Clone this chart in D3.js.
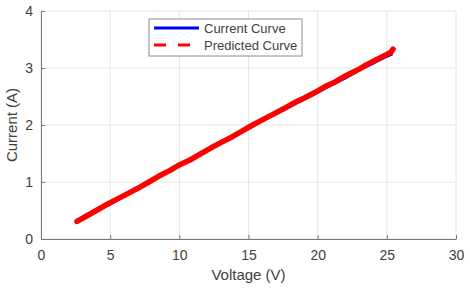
<!DOCTYPE html>
<html>
<head>
<meta charset="utf-8">
<script src="https://cdn.jsdelivr.net/npm/d3@7"></script>
<style>
  body { margin: 0; background: #fff; }
  text { font-family: "Liberation Sans", Arial, sans-serif; fill: #404040; }
</style>
</head>
<body>
<div id="chart"></div>
<script>
// values
var currentV = [2.6, 3, 4, 5, 6, 7, 8, 9, 10, 11, 12, 13, 14, 15, 16, 17, 18, 19, 20, 21, 22, 23, 24, 25, 25.4];
var currentI = [0.32, 0.37, 0.50, 0.62, 0.76, 0.89, 1.03, 1.17, 1.30, 1.43, 1.56, 1.69, 1.82, 1.95, 2.08, 2.21, 2.33, 2.46, 2.58, 2.71, 2.83, 2.97, 3.09, 3.21, 3.25];

var predictedV = [2.6, 3.2, 4, 4.8, 5.5, 6.3, 7, 7.8, 8.5, 9.3, 10, 10.8, 11.5, 12.3, 13, 13.8, 14.5, 15.3, 16, 16.8, 17.5, 18.3, 19, 19.8, 20.5, 21.3, 22, 22.5, 23, 23.4, 23.8, 24.2, 24.6, 25, 25.3, 25.45];
var predictedI = [0.31, 0.39, 0.50, 0.61, 0.70, 0.80, 0.89, 1.00, 1.10, 1.20, 1.30, 1.39, 1.49, 1.60, 1.69, 1.79, 1.89, 2.00, 2.09, 2.19, 2.28, 2.39, 2.47, 2.57, 2.67, 2.76, 2.86, 2.92, 2.98, 3.04, 3.09, 3.14, 3.19, 3.24, 3.28, 3.33];

var xTicks = [0, 5, 10, 15, 20, 25, 30];
var yTicks = [0, 1, 2, 3, 4];

var width = 470, height = 292;
var margin = {top: 11, right: 14, bottom: 53, left: 41};
var w = width - margin.left - margin.right,
    h = height - margin.top - margin.bottom;

var svg = d3.select("#chart").append("svg")
    .attr("width", width)
    .attr("height", height);

var g = svg.append("g")
    .attr("transform", "translate(" + margin.left + "," + margin.top + ")");

var x = d3.scaleLinear().domain([0, 30]).range([0, w]);
var y = d3.scaleLinear().domain([0, 4]).range([h, 0]);

// grid
g.append("g").selectAll("line").data(xTicks).enter().append("line")
    .attr("x1", d => x(d)).attr("x2", d => x(d))
    .attr("y1", 0).attr("y2", h)
    .attr("stroke", "#e6e6e6");
g.append("g").selectAll("line").data(yTicks).enter().append("line")
    .attr("x1", 0).attr("x2", w)
    .attr("y1", d => y(d)).attr("y2", d => y(d))
    .attr("stroke", "#e6e6e6");

// axes
var xAxis = d3.axisBottom(x).tickValues(xTicks).tickSizeInner(-4).tickSizeOuter(0).tickPadding(11)
    .tickFormat(d3.format("d"));
var yAxis = d3.axisLeft(y).tickValues(yTicks).tickSizeInner(-4).tickSizeOuter(0).tickPadding(8)
    .tickFormat(d3.format("d"));

g.append("g")
    .attr("transform", "translate(0," + h + ")")
    .call(xAxis)
    .call(a => a.select(".domain").attr("stroke", "#777"))
    .call(a => a.selectAll(".tick line").attr("stroke", "#777"))
    .call(a => a.selectAll("text").style("font-size", "14px").attr("fill", "#404040"));

g.append("g")
    .call(yAxis)
    .call(a => a.select(".domain").attr("stroke", "#777"))
    .call(a => a.selectAll(".tick line").attr("stroke", "#777"))
    .call(a => a.selectAll("text").style("font-size", "14px").attr("fill", "#404040"));

// axis titles
svg.append("text")
    .attr("x", margin.left + w / 2)
    .attr("y", 280)
    .attr("text-anchor", "middle")
    .style("font-size", "15px")
    .text("Voltage (V)");

svg.append("text")
    .attr("transform", "translate(17," + (margin.top + h / 2) + ")rotate(-90)")
    .attr("text-anchor", "middle")
    .style("font-size", "15px")
    .text("Current (A)");

// lines
var line = d3.line().x(d => x(d[0])).y(d => y(d[1]));

g.append("path")
    .datum(d3.zip(currentV, currentI))
    .attr("d", line)
    .attr("fill", "none")
    .attr("stroke", "#0000ff")
    .attr("stroke-width", 3.5);

g.append("path")
    .datum(d3.zip(predictedV, predictedI))
    .attr("d", line)
    .attr("fill", "none")
    .attr("stroke", "#ff0000")
    .attr("stroke-width", 5.5)
    .attr("stroke-linejoin", "round")
    .attr("stroke-linecap", "round");

// legend
var lg = svg.append("g").attr("transform", "translate(149,19)");
lg.append("rect")
    .attr("width", 153).attr("height", 37)
    .attr("fill", "#fff").attr("stroke", "#8c8c8c");
lg.append("line")
    .attr("x1", 5).attr("x2", 50).attr("y1", 9).attr("y2", 9)
    .attr("stroke", "#0000ff").attr("stroke-width", 3);
lg.append("line")
    .attr("x1", 5).attr("x2", 50).attr("y1", 26).attr("y2", 26)
    .attr("stroke", "#ff0000").attr("stroke-width", 3)
    .attr("stroke-dasharray", "12,12");
lg.append("text").attr("x", 55).attr("y", 13.5).style("font-size", "13px").text("Current Curve");
lg.append("text").attr("x", 55).attr("y", 30.5).style("font-size", "13px").text("Predicted Curve");
</script>
</body>
</html>
